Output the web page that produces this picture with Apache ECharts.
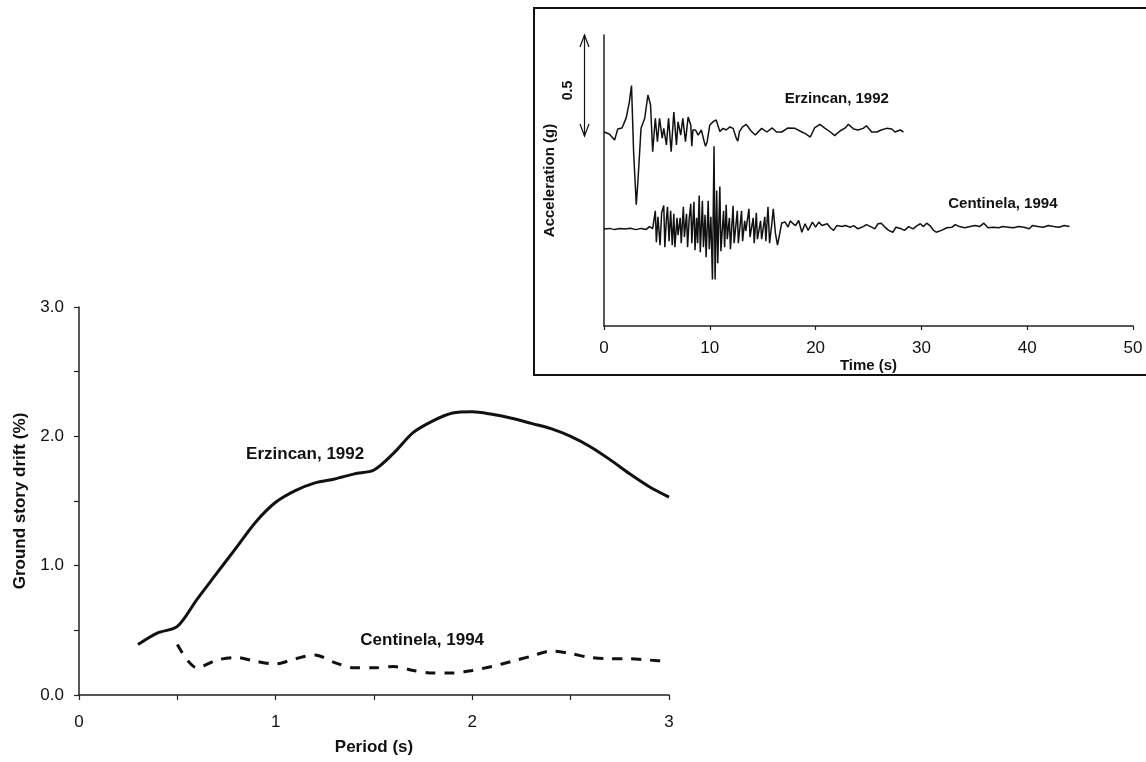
<!DOCTYPE html>
<html>
<head>
<meta charset="utf-8">
<script src="https://cdn.jsdelivr.net/npm/echarts@6/dist/echarts.min.js"></script>
<style>
html,body{margin:0;padding:0;background:#fff;}
#chart{width:1146px;height:762px;}
</style>
</head>
<body>
<div id="chart"></div>
<script>
// ---- Main chart data: ground story drift (%) vs period (s) ----
const erzPeriod = [0.3,0.4,0.5,0.6,0.7,0.8,0.9,1.0,1.1,1.2,1.3,1.4,1.5,1.6,1.7,1.8,1.9,2.0,2.1,2.2,2.3,2.4,2.5,2.6,2.7,2.8,2.9,3.0];
const erzDrift  = [0.39,0.48,0.53,0.74,0.94,1.14,1.34,1.49,1.58,1.64,1.67,1.71,1.74,1.87,2.03,2.12,2.18,2.19,2.17,2.14,2.10,2.06,2.00,1.92,1.82,1.71,1.61,1.53];
const centPeriod = [0.5,0.6,0.7,0.8,0.9,1.0,1.1,1.2,1.3,1.4,1.5,1.6,1.7,1.8,1.9,2.0,2.1,2.2,2.3,2.4,2.5,2.6,2.7,2.8,2.9,3.0];
const centDrift  = [0.39,0.21,0.27,0.29,0.26,0.24,0.28,0.31,0.25,0.21,0.21,0.22,0.19,0.17,0.17,0.19,0.22,0.26,0.30,0.34,0.32,0.29,0.28,0.28,0.27,0.26];
const mainXTicks = [0,1,2,3];
const mainYTicks = ['0.0','1.0','2.0','3.0'];

// ---- Inset data: acceleration (g) vs time (s) ----
const erzTime = [0,0.5,1.0,1.3,1.7,2.1,2.4,2.6,2.8,3.05,3.2,3.5,3.85,4.15,4.4,4.6,4.85,5.05,5.25,5.5,5.65,5.9,6.1,6.35,6.6,6.85,7.0,7.25,7.45,7.7,7.95,8.2,8.3,8.4,8.65,8.9,9.2,9.5,9.6,9.75,10.0,10.3,10.6,10.95,11.25,11.55,11.9,12.2,12.5,12.65,12.8,13.1,13.45,13.9,14.3,14.9,15.4,15.9,16.3,16.8,17.4,18.05,18.7,19.0,19.5,19.9,20.4,20.9,21.4,21.8,22.3,22.8,23.1,23.6,24.0,24.5,24.8,25.3,25.8,26.2,26.7,27.2,27.5,28.0,28.3];
const erzAcc  = [0,-0.01,-0.04,0.015,0.02,0.07,0.15,0.23,-0.10,-0.36,-0.25,0.018,0.068,0.183,0.134,-0.098,0.068,-0.048,0.068,-0.03,0.018,-0.064,0.068,-0.098,0.099,-0.064,0.05,-0.015,0.068,-0.048,0.074,0.035,-0.07,0.01,0.01,-0.015,0.01,-0.054,-0.07,-0.048,0.035,0.05,0.06,0.002,0.018,0.01,0.025,0.018,-0.03,-0.045,0.002,0.025,0.038,0.005,-0.015,0.018,0,0.02,0,0,0.02,0.018,0,-0.007,-0.025,0.02,0.038,0.018,0,-0.018,0.005,0.02,0.038,0.015,0.01,0.018,0.031,0,0,0.01,0.018,0.015,0,0.01,0];
const centTime = [0,0.5,1.0,1.5,2.0,2.5,3.0,3.5,4.0,4.3,4.6,4.85,4.95,5.1,5.3,5.45,5.65,5.75,5.9,6.0,6.15,6.3,6.45,6.6,6.7,6.9,7.0,7.2,7.3,7.5,7.6,7.8,7.9,8.05,8.2,8.3,8.5,8.6,8.75,8.85,9.0,9.1,9.3,9.4,9.55,9.65,9.85,9.95,10.1,10.25,10.4,10.5,10.65,10.75,10.95,11.05,11.3,11.4,11.55,11.65,11.85,11.95,12.2,12.3,12.6,12.7,13.0,13.1,13.3,13.4,13.7,13.8,14.1,14.2,14.4,14.5,14.8,14.9,15.2,15.3,15.5,15.65,15.85,16.0,16.2,16.4,16.6,16.8,17.1,17.4,17.6,17.9,18.1,18.4,18.7,19.0,19.3,19.7,20.0,20.3,20.6,21.1,21.4,21.7,22.0,22.5,22.8,23.3,23.6,24.0,24.5,24.8,25.3,25.6,25.9,26.2,26.5,26.9,27.3,27.6,28.1,28.4,28.8,29.2,29.6,29.9,30.2,30.5,30.8,31.1,31.4,31.9,32.4,32.9,33.2,33.6,34.1,34.6,35.1,35.5,35.9,36.3,36.8,37.3,37.7,38.2,38.7,39.2,39.7,40.2,40.5,41.0,41.5,42.0,42.5,43.0,43.5,44.0];
const centAcc  = [0,0.003,-0.003,0.002,0,0.004,-0.003,0.003,-0.002,0.012,0.002,0.09,-0.065,0.06,-0.08,0.08,0.116,-0.09,0.05,0.11,-0.06,0.09,-0.08,0.075,-0.09,0.055,-0.03,0.055,-0.07,0.11,-0.04,0.075,-0.09,0.05,0.125,-0.07,0.135,-0.105,0.055,-0.07,0.166,-0.115,0.14,-0.09,0.07,-0.14,0.14,-0.10,0.06,-0.25,0.41,-0.25,0.19,-0.17,0.21,-0.11,0.09,-0.09,0.12,-0.05,0.055,-0.10,0.115,-0.07,0.09,-0.07,0.09,-0.06,0.04,-0.01,0.10,-0.04,0.055,-0.07,0.08,-0.05,0.04,-0.05,0.06,-0.06,0.11,-0.07,0.02,0.10,-0.02,-0.08,-0.025,0.03,0.035,0.01,0.04,0.025,0.017,0.042,-0.016,0.026,-0.007,0.034,0.009,0.034,0.017,0.026,0.006,-0.007,0.017,0.012,0.017,0.009,0.017,0.001,0.012,0.022,0.009,0.001,0.026,0.029,0.012,-0.007,-0.016,0.009,0.001,-0.007,0.012,0.001,0.017,0.026,0.012,0.029,0.017,-0.004,-0.016,-0.007,0.006,0.009,0.022,0.012,0.006,0.012,0.017,0.012,0.029,0.006,0.009,0.006,0.012,0.009,0.006,0.012,0.009,0.001,0.017,0.012,0.009,0.017,0.012,0.009,0.017,0.012];
const insetXTicks = [0,10,20,30,40,50];
const erzOffset = 0.96;   // trace baseline (g) in the offset display
const centOffset = 0.48;
const arrowSpan = 0.5;    // scale arrow, g

const FONT = '"Liberation Sans", Arial, sans-serif';
const chart = echarts.init(document.getElementById('chart'), null, {renderer:'canvas'});

chart.setOption({
  animation:false,
  backgroundColor:'#fff',
  grid:[
    {left:79, top:307, width:590, height:388},
    {left:604, top:35, width:529, height:291}
  ],
  xAxis:[
    {gridIndex:0, type:'value', min:0, max:3, interval:0.5,
     name:'Period (s)', nameLocation:'middle', nameGap:44,
     nameTextStyle:{fontFamily:FONT, fontWeight:'bold', fontSize:17, color:'#111'},
     axisLine:{lineStyle:{color:'#222', width:1.5}},
     axisTick:{show:true, inside:false, length:5, lineStyle:{color:'#222', width:1.2}},
     splitLine:{show:false},
     axisLabel:{margin:19, fontFamily:FONT, fontSize:17, color:'#111',
       formatter:v => mainXTicks.indexOf(v) >= 0 ? String(v) : ''}},
    {gridIndex:1, type:'value', min:0, max:50, interval:10,
     name:'Time (s)', nameLocation:'middle', nameGap:30,
     nameTextStyle:{fontFamily:FONT, fontWeight:'bold', fontSize:15, color:'#111'},
     axisLine:{lineStyle:{color:'#222', width:1.5}},
     axisTick:{show:true, inside:false, length:4, lineStyle:{color:'#222', width:1.2}},
     splitLine:{show:false},
     axisLabel:{margin:14, fontFamily:FONT, fontSize:17, color:'#111',
       formatter:v => insetXTicks.indexOf(v) >= 0 ? String(v) : ''}}
  ],
  yAxis:[
    {gridIndex:0, type:'value', min:0, max:3, interval:0.5,
     name:'Ground story drift (%)', nameLocation:'middle', nameGap:50, nameRotate:90,
     nameTextStyle:{fontFamily:FONT, fontWeight:'bold', fontSize:17, color:'#111'},
     axisLine:{show:true, lineStyle:{color:'#222', width:1.5}},
     axisTick:{show:true, inside:false, length:5, lineStyle:{color:'#222', width:1.2}},
     splitLine:{show:false},
     axisLabel:{margin:15, fontFamily:FONT, fontSize:17, color:'#111',
       formatter:v => { const s = v.toFixed(1); return mainYTicks.indexOf(s) >= 0 ? s : ''; }}},
    {gridIndex:1, type:'value', min:0, max:1.44,
     name:'Acceleration (g)', nameLocation:'middle', nameGap:47, nameRotate:90,
     nameTextStyle:{fontFamily:FONT, fontWeight:'bold', fontSize:15, color:'#111'},
     axisLine:{show:true, lineStyle:{color:'#222', width:1.5}},
     axisTick:{show:false}, axisLabel:{show:false}, splitLine:{show:false}}
  ],
  series:[
    {type:'line', xAxisIndex:0, yAxisIndex:0, showSymbol:false, smooth:0.3,
     data:erzPeriod.map((p,i)=>[p, erzDrift[i]]),
     lineStyle:{color:'#111', width:3}},
    {type:'line', xAxisIndex:0, yAxisIndex:0, showSymbol:false, smooth:0.3,
     data:centPeriod.map((p,i)=>[p, centDrift[i]]),
     lineStyle:{color:'#111', width:3, type:[10,9]}},
    {type:'line', xAxisIndex:1, yAxisIndex:1, showSymbol:false,
     data:erzTime.map((t,i)=>[t, erzAcc[i] + erzOffset]),
     lineStyle:{color:'#111', width:1.5}},
    {type:'line', xAxisIndex:1, yAxisIndex:1, showSymbol:false,
     data:centTime.map((t,i)=>[t, centAcc[i] + centOffset]),
     lineStyle:{color:'#111', width:1.5}}
  ]
});

// Annotations positioned through the axes
const mainPx = (x,y) => chart.convertToPixel({xAxisIndex:0, yAxisIndex:0}, [x,y]);
const insPx = (x,y) => chart.convertToPixel({xAxisIndex:1, yAxisIndex:1}, [x,y]);
const lblErzMain = mainPx(1.15, 1.86);
const lblCentMain = mainPx(1.745, 0.425);
const lblErzIns = insPx(22.0, 1.124);
const lblCentIns = insPx(37.7, 0.605);
const arrTop = insPx(0, 1.44);
const arrBot = insPx(0, 1.44 - arrowSpan);
const ax = arrTop[0] - 19.5;
const hw = 4.5, hl = 12;

function txt(p, s, size){
  return {type:'text', x:p[0], y:p[1], z:100,
    style:{text:s, x:0, y:0, align:'center', verticalAlign:'middle',
      font:'bold '+size+'px '+FONT, fill:'#111'}};
}

chart.setOption({graphic:[
  {type:'rect', shape:{x:534, y:8, width:640, height:367}, z:0,
   style:{fill:'none', stroke:'#111', lineWidth:2}},
  txt(lblErzMain, 'Erzincan, 1992', 17),
  txt(lblCentMain, 'Centinela, 1994', 17),
  txt(lblErzIns, 'Erzincan, 1992', 15),
  txt(lblCentIns, 'Centinela, 1994', 15),
  {type:'polyline', z:100, shape:{points:[[ax,arrTop[1]],[ax,arrBot[1]]]}, style:{stroke:'#111', lineWidth:1.2, fill:'none'}},
  {type:'polyline', z:100, shape:{points:[[ax-hw,arrTop[1]+hl],[ax,arrTop[1]],[ax+hw,arrTop[1]+hl]]}, style:{stroke:'#111', lineWidth:1.2, fill:'none'}},
  {type:'polyline', z:100, shape:{points:[[ax-hw,arrBot[1]-hl],[ax,arrBot[1]],[ax+hw,arrBot[1]-hl]]}, style:{stroke:'#111', lineWidth:1.2, fill:'none'}},
  {type:'text', x:ax-16.5, y:(arrTop[1]+arrBot[1])/2 + 5, rotation:Math.PI/2, z:100,
   style:{text:'0.5', x:0, y:0, align:'center', verticalAlign:'middle', font:'bold 14px '+FONT, fill:'#111'}}
]});
</script>
</body>
</html>
